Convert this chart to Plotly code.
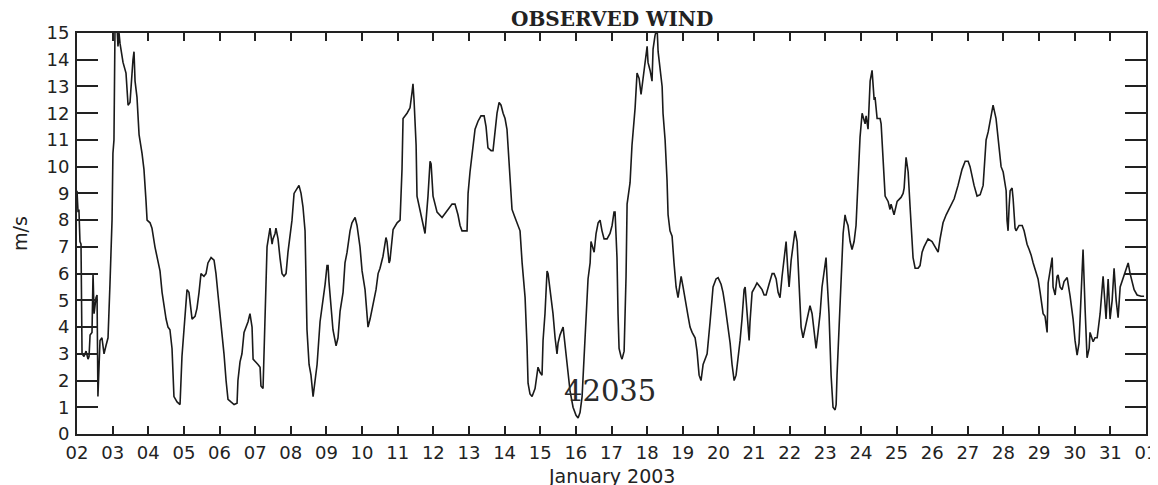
import pandas as pd
import plotly.graph_objects as go

# ---- data: hours since 2003-01-02 00:00 UTC, observed wind speed (m/s) ----
hours = [
    0.0, 0.7, 1.3, 2.0, 2.7, 3.4, 4.7, 6.1, 7.4, 8.1, 8.8, 10.1, 10.8, 11.5, 12.8, 13.5,
    14.1, 14.8, 15.5, 16.8, 18.2, 19.5, 20.9, 22.2, 23.6, 24.2, 24.9, 25.6, 26.9, 27.6,
    28.3, 29.0, 31.0, 33.0, 34.4, 35.7, 37.0, 37.7, 38.4, 39.1, 40.4, 41.8, 43.8, 45.1,
    46.5, 47.2, 49.2, 50.5, 52.5, 54.6, 55.9, 57.3, 58.6, 60.0, 61.3, 62.6, 64.0, 64.7,
    65.3, 67.4, 69.4, 70.7, 72.1, 73.4, 74.1, 75.4, 76.1, 77.5, 79.5, 80.8, 82.2, 83.5,
    85.5, 86.9, 88.2, 90.3, 92.3, 93.6, 95.0, 96.3, 97.7, 99.0, 100.4, 101.7, 103.7,
    105.8, 107.8, 108.4, 109.8, 111.1, 112.5, 113.8, 115.2, 116.5, 117.9, 118.6, 120.6,
    121.9, 123.3, 123.9, 125.3, 126.6, 128.0, 130.0, 131.4, 132.0, 133.4, 134.0, 135.4,
    136.7, 138.1, 139.4, 140.8, 142.1, 143.5, 144.8, 146.2, 148.2, 149.5, 150.9, 152.2,
    153.6, 154.9, 156.3, 157.6, 159.0, 160.3, 161.7, 163.7, 165.7, 167.1, 168.4, 169.1,
    169.7, 171.1, 172.4, 174.5, 175.8, 177.2, 179.2, 180.5, 181.9, 183.9, 185.2, 187.3,
    188.6, 190.6, 192.0, 194.0, 196.0, 197.4, 199.4, 201.4, 202.8, 204.1, 206.1, 208.1,
    208.8, 210.2, 210.8, 212.9, 215.6, 217.6,
    218.9, 219.6, 222.3, 224.3, 225.7, 226.3, 227.0, 228.4, 229.0, 231.0, 233.1, 234.4,
    236.4, 237.8, 238.5, 239.8, 242.5, 245.9, 249.9, 252.6, 254.6, 256.6, 258.0, 259.3,
    262.7, 263.4, 264.7,
    266.1, 268.1, 270.1, 272.1, 274.2, 275.5, 276.8, 278.9, 280.2, 281.6, 282.9, 284.3,
    285.6, 287.0, 288.3, 289.6, 291.0, 292.3, 293.0, 295.0, 296.4, 298.4, 299.8, 301.1,
    301.8, 303.1, 303.8, 305.1, 306.5, 308.5, 309.9, 310.5, 311.9, 313.2, 313.9, 315.2,
    316.6, 317.3, 318.6, 320.6, 322.0, 323.3, 324.0, 325.3, 327.4, 328.7, 330.1, 331.4,
    332.1, 334.1, 336.1, 337.5, 338.8, 340.2, 341.5, 342.2, 343.5, 344.2, 345.6, 346.2,
    348.3, 349.6, 351.0,
    352.3, 353.6, 355.0, 357.0, 359.0, 360.4, 361.7, 362.4, 363.7, 364.4, 365.1, 366.4,
    367.1, 368.5, 369.8, 370.5, 372.5, 373.8, 375.9, 377.2, 378.6, 379.9, 381.3, 382.6,
    384.0, 384.6, 386.0, 387.3, 388.0, 389.3, 390.7, 391.4, 392.7, 394.1, 394.7, 396.1,
    397.4, 398.1, 399.4, 400.8, 402.1, 403.5, 404.8, 406.2, 406.9, 408.2, 409.6, 411.6,
    412.9, 414.3, 416.3, 417.6, 419.0, 420.3, 421.7, 423.0, 424.4, 426.4, 428.4, 430.4,
    431.8, 433.8, 435.1, 436.5, 437.8, 439.9, 441.2, 442.6, 443.9, 445.2, 446.6, 447.9,
    449.3, 450.0, 451.3, 452.7, 453.3, 454.7, 456.7, 458.0, 460.1, 461.4, 462.8, 464.1,
    466.1, 468.2, 469.5, 470.9, 472.2, 473.5, 474.9, 475.6, 476.9, 477.6, 478.9, 479.6,
    481.0, 482.3, 483.6, 485.0, 485.7, 487.0, 487.7, 489.0, 490.4, 492.4, 493.7, 495.1,
    496.4, 497.8, 499.1, 500.5, 501.8, 503.2, 504.5, 505.2, 506.5, 507.9, 508.6, 509.2,
    510.6, 511.3, 511.9, 512.6, 514.0, 514.6, 516.0, 517.3, 518.0, 519.3, 520.7, 522.0,
    523.4, 524.7, 526.1, 527.4, 528.8, 530.8, 531.5, 532.8, 534.2, 535.5, 536.9, 537.5,
    538.9, 540.9, 541.6, 542.9, 544.3, 546.3, 547.6, 548.3, 550.3, 552.4, 555.0, 556.4,
    557.1, 558.4, 559.1, 559.8, 561.1, 562.5, 563.1, 564.5, 566.5, 567.8, 569.2, 570.5,
    573.2, 575.9, 578.6, 580.0, 581.3, 583.3, 585.4, 588.1, 590.8, 593.4, 596.1, 598.2,
    600.2, 601.5, 602.9, 604.2, 606.2, 608.3, 610.3, 611.6, 612.3, 613.7, 615.7, 617.0,
    619.0, 621.1, 622.4, 623.8, 625.8, 626.4, 627.1, 627.8, 628.5, 629.8, 630.5, 631.8,
    632.5, 634.5, 636.6, 637.9, 639.9, 641.3, 642.6, 644.0, 646.0, 647.3, 648.7, 650.7,
    652.0, 653.4, 654.1, 655.4, 656.8, 657.4, 658.8, 660.1, 660.8, 662.1, 663.5, 664.8,
    666.9, 668.9, 670.9, 672.2, 673.6, 674.9, 675.6, 677.0, 677.6, 679.0, 680.3, 681.7,
    682.3, 684.4, 685.7, 687.1, 689.1, 691.1, 691.8, 693.1, 694.5, 695.8, 697.2, 698.5,
    699.9, 701.2, 702.6, 704.6, 706.6, 708.0, 709.3, 710.7, 712.0, 714.0, 716.7, 718.7,
]

speed = [
    9.1, 8.3, 8.4, 7.2, 7.1, 3.0, 2.9, 3.1, 2.8, 2.9, 3.7, 3.8, 6.0, 4.5, 5.1, 5.2,
    1.4, 2.6, 3.5, 3.6, 3.0, 3.3, 3.6, 5.6, 8.0, 10.5, 11.0, 15.2, 15.3, 14.5,
    15.0, 14.6, 13.9, 13.5, 12.3, 12.4, 13.6, 14.0, 14.3, 13.2, 12.6, 11.2, 10.5, 9.9,
    8.7, 8.0, 7.9, 7.7, 7.0, 6.4, 6.1, 5.3, 4.8, 4.3, 4.0, 3.9, 3.2, 2.0,
    1.4, 1.2, 1.1, 2.9, 4.0, 4.8, 5.4, 5.3, 4.9, 4.3, 4.4, 4.7, 5.3, 6.0,
    5.9, 6.0, 6.4, 6.6, 6.5, 6.0, 5.2, 4.5, 3.8, 3.0, 2.0, 1.3, 1.2,
    1.1, 1.15, 2.0, 2.7, 3.0, 3.8, 4.0, 4.2, 4.5, 4.0, 2.8, 2.7,
    2.6, 2.5, 1.8, 1.7, 4.4, 7.0, 7.7, 7.1, 7.3, 7.5, 7.7, 7.3,
    6.6, 6.0, 5.9, 6.0, 6.8, 7.5, 8.0, 9.0, 9.2, 9.3, 9.0, 8.5,
    7.6, 3.9, 2.6, 2.2, 1.4, 2.0, 2.6, 4.2, 5.0, 5.6, 6.3, 6.3,
    5.7, 4.6, 3.9, 3.3, 3.6, 4.6, 5.3, 6.4, 6.8, 7.6, 7.9, 8.1,
    7.8, 7.0, 6.1, 5.4, 4.0, 4.3, 4.9, 5.4, 6.0, 6.2, 6.65, 7.35,
    7.2, 6.4, 6.5, 7.65, 7.9, 8.0,
    9.9, 11.8, 12.0, 12.2, 12.8, 13.1, 12.5, 10.8, 8.9, 8.4, 7.9, 7.5,
    8.9, 10.2, 10.1, 8.9, 8.3, 8.1, 8.4, 8.6, 8.6, 8.2, 7.8, 7.6,
    7.6, 9.0, 9.8,
    10.5, 11.4, 11.7, 11.9, 11.9, 11.5, 10.7, 10.6, 10.6, 11.4, 12.0, 12.4,
    12.3, 12.0, 11.8, 11.4, 10.2, 9.0, 8.4, 8.1, 7.9, 7.6, 6.4, 5.4,
    5.1, 3.3, 1.9, 1.5, 1.4, 1.7, 2.2, 2.5, 2.3, 2.2, 3.5, 4.5,
    6.1, 6.0, 5.4, 4.5, 3.6, 3.0, 3.4, 3.7, 4.0, 3.4, 2.6, 2.0,
    1.6, 1.0, 0.7, 0.6, 0.8, 1.4, 2.8, 3.9, 5.0, 5.8, 6.4, 7.2,
    6.8, 7.5, 7.9,
    8.0, 7.6, 7.3, 7.3, 7.5, 7.8, 8.3, 8.3, 6.6, 4.5, 3.2, 2.9,
    2.8, 3.1, 5.9, 8.6, 9.4, 10.8, 12.2, 13.5, 13.3, 12.7, 13.3, 14.0,
    14.5, 13.9, 13.6, 13.2, 14.4, 14.9, 15.2, 14.3, 13.6, 13.0, 12.0, 11.0,
    9.5, 8.2, 7.6, 7.4, 6.4, 5.5, 5.1, 5.6, 5.9, 5.5, 5.1, 4.4,
    4.0, 3.8, 3.6, 3.1, 2.2, 2.0, 2.6, 2.8, 3.0, 4.2, 5.5, 5.8,
    5.85, 5.6, 5.3, 4.8, 4.3, 3.4, 2.6, 2.0, 2.2, 2.8, 3.5, 4.3,
    5.4, 5.5, 4.6, 3.5, 4.2, 5.3, 5.5, 5.65, 5.5, 5.4, 5.2, 5.2,
    5.6, 6.0, 6.0, 5.8, 5.3, 5.1, 5.9, 6.3, 7.0, 7.2, 6.0, 5.5,
    6.5, 7.0, 7.6, 7.2, 6.5, 5.0, 4.0, 3.6, 4.0, 4.5, 4.8, 4.5,
    3.8, 3.2, 3.8, 4.5, 5.5, 6.0, 6.6, 5.8, 4.5, 2.2, 1.5, 1.0,
    0.9, 1.1, 2.2, 3.2, 4.5, 5.5, 7.5, 8.2, 8.0, 7.8, 7.2, 6.9,
    7.2, 7.8, 9.5, 11.1, 12.0, 11.6, 11.9, 11.4, 13.2, 13.6, 12.5, 12.6,
    11.8, 11.8, 11.6, 10.4, 8.9, 8.7, 8.4, 8.6, 8.2, 8.7, 8.85, 9.0,
    9.2, 10.35, 10.0, 9.8, 8.5, 7.3, 6.6, 6.2, 6.2, 6.3, 6.8, 7.0,
    7.3, 7.2, 6.9, 6.8, 7.3, 7.9, 8.2, 8.5, 8.8, 9.3, 9.9, 10.2,
    10.2, 10.0, 9.6, 9.3, 8.9, 8.95, 9.3, 10.2, 11.0, 11.3, 12.0, 12.3,
    11.8, 10.5, 10.0, 9.8, 9.1, 8.0, 7.6, 8.5, 9.1, 9.2, 8.8, 7.7,
    7.6, 7.8, 7.8, 7.6, 7.1, 6.9, 6.7, 6.4, 6.0, 5.8, 5.3, 4.5,
    4.4, 3.8, 5.65, 6.2, 6.6, 5.5, 5.2, 5.9, 5.95, 5.5, 5.4, 5.7,
    5.85, 5.15, 4.3, 3.5, 2.95, 3.4, 4.5, 6.15, 6.9, 4.65, 2.85, 3.2,
    3.8, 3.45, 3.6, 3.6, 4.5, 5.9, 5.2, 4.3, 5.8, 4.3, 5.0, 6.2,
    5.0, 4.35, 5.5, 5.85, 6.2, 6.4, 6.0, 5.65, 5.4, 5.2, 5.15, 5.15,
]

start = "2003-01-02 00:00"
end = "2003-02-01 00:00"
y_ticks = list(range(0, 16))
title_text = "OBSERVED WIND"
station_label = "42035"
station_pos = ["2003-01-16 23:00", 1.6]
x_title = "January 2003"
y_title = "m/s"

times = pd.Timestamp(start) + pd.to_timedelta(hours, unit="h")

fig = go.Figure()
fig.add_trace(go.Scatter(
    x=times, y=speed, mode="lines",
    line=dict(color="#1a1a1a", width=1.6),
    hoverinfo="skip", showlegend=False,
))

tick_font = dict(family="DejaVu Sans", size=18, color="#222")

# the page body adds an 8px offset, so margins are reduced accordingly
fig.update_layout(
    width=1158, height=485,
    margin=dict(l=69, r=20, t=25, b=59),
    paper_bgcolor="white", plot_bgcolor="white",
    showlegend=False,
    font=tick_font,
)

fig.update_xaxes(
    type="date", range=[start, end],
    tick0=start, dtick=86400000, tickformat="%d",
    ticks="inside", ticklen=8, tickwidth=1.5, tickcolor="#222",
    showline=True, linewidth=2, linecolor="#222", mirror="ticks",
    showgrid=False, zeroline=False, tickfont=tick_font,
    ticklabelstandoff=1, automargin=False,
)
fig.update_yaxes(
    range=[0, 15], tickvals=y_ticks,
    ticks="inside", ticklen=21, tickwidth=1.5, tickcolor="#222",
    showline=True, linewidth=2, linecolor="#222", mirror="ticks",
    showgrid=False, zeroline=False, tickfont=tick_font,
    ticklabelstandoff=2, automargin=False,
)

fig.add_annotation(
    text=f"<b>{title_text}</b>", xref="paper", yref="paper",
    x=0.5, y=(434 - 19) / 401, xanchor="center", yanchor="middle",
    showarrow=False, font=dict(family="DejaVu Serif", size=20, color="#222"),
)
fig.add_annotation(
    text=x_title, xref="paper", yref="paper",
    x=0.5, y=-42 / 401, xanchor="center", yanchor="middle",
    showarrow=False, font=dict(family="DejaVu Sans", size=19, color="#222"),
)
fig.add_annotation(
    text=y_title, xref="paper", yref="paper",
    x=-57 / 1069, y=(434 - 234) / 401, xanchor="center", yanchor="middle",
    textangle=-90, showarrow=False,
    font=dict(family="DejaVu Sans", size=19, color="#222"),
)
fig.add_annotation(
    text=station_label, x=station_pos[0], y=station_pos[1],
    xanchor="center", yanchor="middle", showarrow=False,
    font=dict(family="DejaVu Serif", size=29, color="#2a2a2a"),
)

fig.write_html("out.html")
